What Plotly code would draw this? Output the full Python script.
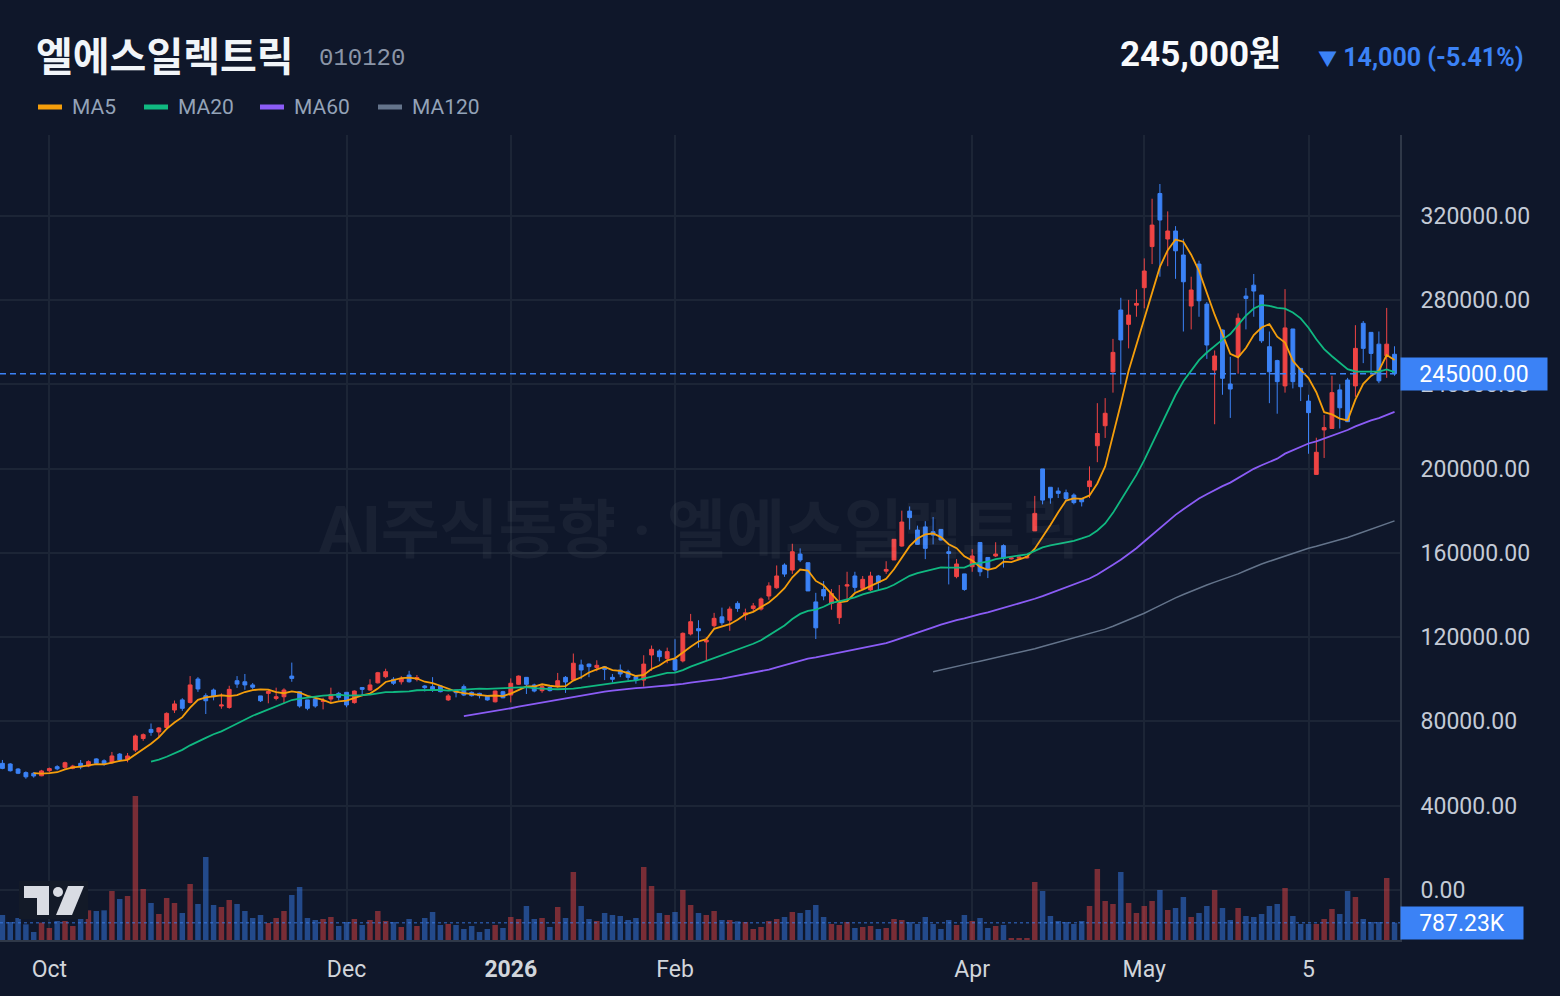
import plotly.graph_objects as go
import pandas as pd

# ---------------- data (prices in thousand KRW, volume in K shares) ----------------
OPEN_K = [60.1, 59.8, 57.4, 55.7, 55.4, 54.2, 56.6, 58.5, 58.2, 57.8,
          60.1, 58.8, 62.2, 61.3, 60.4, 64.5, 62.0, 66.4, 71.9, 76.2,
          75.0, 77.1, 85.4, 90.2, 89.0, 100.1, 92.2, 94.9, 87.3, 86.6,
          99.3, 98.8, 97.3, 92.1, 93.3, 90.9, 91.7, 101.5, 94.1, 90.2,
          90.6, 89.5, 90.6, 93.3, 93.8, 88.9, 96.1, 94.9, 98.3, 101.2,
          100.0, 98.8, 102.0, 100.0, 96.8, 96.5, 96.8, 90.2, 94.9, 96.5,
          93.8, 93.3, 92.2, 89.3, 94.1, 92.5, 97.6, 100.9, 97.3, 94.6,
          96.1, 96.5, 100.9, 99.6, 106.8, 107.2, 105.6, 105.9, 100.9, 104.4,
          103.6, 101.2, 99.6, 111.5, 113.4, 109.9, 109.4, 108.7, 121.5, 124.0,
          117.7, 125.4, 129.6, 128.0, 136.0, 130.5, 133.6, 133.3, 139.5, 143.4,
          154.2, 151.8, 159.4, 155.3, 136.7, 142.6, 136.0, 129.2, 144.2, 149.0,
          143.1, 142.4, 149.0, 151.3, 156.6, 163.2, 179.8, 170.8, 172.3, 170.0,
          171.1, 160.5, 148.7, 150.0, 153.4, 164.9, 157.8, 158.5, 163.4, 157.1,
          157.4, 157.6, 170.4, 199.8, 191.1, 189.3, 188.5, 187.4, 185.8, 191.4,
          210.8, 220.3, 245.9, 275.2, 268.4, 277.5, 285.8, 305.3, 330.5, 308.9,
          312.7, 301.3, 277.1, 297.0, 278.0, 246.7, 265.7, 240.1, 253.4, 281.8,
          287.0, 282.3, 257.8, 251.2, 239.2, 266.2, 247.5, 232.0, 197.2, 218.3,
          219.0, 237.3, 242.0, 239.2, 268.9, 264.6, 259.0, 253.5, 254.2]
CLOSE_K = [57.7, 56.6, 55.4, 53.7, 54.1, 56.5, 57.6, 57.5, 60.4, 58.8,
           58.4, 60.9, 60.1, 59.8, 63.6, 61.7, 63.6, 73.1, 73.7, 74.8,
           76.9, 83.8, 88.3, 86.2, 97.3, 95.4, 89.8, 91.7, 87.8, 95.2,
           97.7, 97.3, 96.2, 89.8, 94.2, 91.7, 94.9, 100.4, 87.3, 86.2,
           87.3, 89.8, 92.8, 91.4, 87.8, 94.4, 95.2, 97.3, 103.1, 103.6,
           98.1, 100.4, 98.8, 100.8, 96.0, 94.9, 94.1, 92.1, 93.6, 92.5,
           92.2, 92.2, 90.2, 94.4, 91.2, 98.1, 101.5, 97.6, 94.4, 96.5,
           94.6, 99.3, 98.7, 107.6, 104.4, 106.0, 106.6, 104.7, 100.0, 102.5,
           100.9, 99.6, 107.2, 114.2, 110.7, 113.1, 104.4, 121.8, 127.3, 123.0,
           118.6, 128.9, 126.8, 133.3, 133.6, 131.5, 134.8, 138.1, 144.3, 149.0,
           149.9, 160.5, 156.6, 141.9, 124.4, 139.5, 140.7, 136.0, 144.8, 143.6,
           147.4, 149.0, 146.0, 152.1, 166.4, 174.6, 176.7, 164.0, 162.1, 168.4,
           166.1, 159.7, 154.7, 142.6, 158.5, 151.0, 152.6, 159.4, 157.4, 157.6,
           158.0, 158.2, 178.7, 185.0, 186.1, 188.2, 185.8, 183.8, 184.2, 194.1,
           216.6, 226.2, 255.1, 261.0, 272.8, 278.3, 293.7, 315.5, 317.9, 312.7,
           303.3, 288.6, 284.7, 279.6, 258.6, 253.4, 242.8, 237.7, 271.3, 280.7,
           284.2, 260.6, 245.9, 241.2, 266.7, 241.2, 238.8, 226.5, 207.7, 219.4,
           236.0, 228.8, 222.2, 257.0, 257.0, 254.6, 241.6, 259.0, 245.0]
HIGH_K = [61.7, 60.2, 57.8, 56.3, 56.0, 57.0, 58.1, 59.2, 60.9, 59.4,
          61.7, 61.5, 62.5, 62.0, 65.5, 65.0, 65.0, 73.8, 74.3, 79.0,
          77.3, 84.3, 89.9, 91.0, 101.5, 101.0, 93.3, 95.6, 93.3, 96.9,
          101.5, 102.5, 98.2, 92.1, 95.0, 96.0, 95.7, 107.9, 94.4, 90.2,
          91.0, 91.2, 96.0, 94.0, 93.8, 94.7, 96.3, 100.0, 103.5, 105.0,
          101.0, 101.5, 104.0, 102.0, 97.2, 101.0, 97.0, 93.0, 94.9, 97.5,
          94.2, 93.6, 92.5, 94.6, 94.5, 100.4, 101.8, 100.9, 97.9, 97.5,
          96.5, 103.0, 101.5, 112.2, 109.3, 107.5, 109.0, 106.3, 102.5, 107.0,
          104.5, 102.0, 111.4, 116.0, 114.2, 115.0, 119.0, 122.2, 131.0, 128.0,
          120.0, 131.5, 134.0, 134.5, 137.0, 133.5, 136.2, 138.8, 146.0, 154.0,
          155.0, 164.3, 162.1, 155.3, 141.0, 146.6, 142.8, 144.7, 151.0, 151.0,
          149.0, 151.0, 149.5, 156.0, 166.4, 180.0, 182.0, 172.9, 175.0, 177.0,
          171.1, 163.0, 157.0, 150.0, 161.7, 164.9, 157.8, 165.0, 164.0, 158.0,
          158.5, 158.6, 187.0, 199.8, 191.1, 191.0, 190.0, 188.2, 186.0, 201.0,
          231.0, 233.4, 261.5, 281.0, 280.0, 285.0, 299.7, 328.0, 335.0, 322.0,
          315.0, 309.0, 291.0, 298.6, 279.0, 256.0, 266.0, 253.0, 273.6, 285.6,
          292.3, 282.3, 265.0, 251.6, 285.1, 266.2, 247.5, 235.0, 214.6, 225.4,
          244.0, 240.0, 243.0, 268.0, 270.0, 264.6, 265.0, 276.2, 258.0]
LOW_K = [57.3, 56.2, 55.0, 52.8, 53.3, 54.0, 56.0, 56.8, 57.5, 57.3,
         57.3, 58.3, 59.8, 59.0, 59.8, 60.9, 60.6, 65.5, 70.8, 73.2,
         72.5, 76.0, 84.0, 85.0, 88.5, 94.0, 83.5, 90.0, 86.0, 86.0,
         95.9, 95.0, 95.2, 89.2, 88.6, 90.0, 88.6, 98.8, 86.5, 85.3,
         86.5, 85.7, 89.0, 90.0, 86.7, 88.4, 92.0, 94.5, 98.0, 100.5,
         97.3, 97.5, 98.4, 99.0, 94.2, 94.0, 93.8, 89.7, 91.4, 92.0,
         91.8, 90.9, 89.8, 89.0, 91.0, 89.0, 97.3, 93.0, 93.8, 93.6,
         94.2, 96.0, 93.5, 99.3, 100.0, 101.0, 103.8, 99.6, 98.5, 101.0,
         99.5, 97.9, 96.5, 104.0, 108.5, 107.6, 103.6, 108.0, 120.8, 115.0,
         109.0, 124.5, 125.5, 123.0, 132.0, 128.0, 132.4, 132.6, 137.7, 142.9,
         148.6, 150.0, 155.6, 141.9, 119.1, 137.5, 133.0, 126.2, 138.0, 141.5,
         142.6, 141.9, 142.0, 150.0, 156.6, 162.9, 171.0, 163.7, 157.0, 164.0,
         165.8, 145.0, 147.9, 142.0, 151.0, 148.9, 148.0, 158.0, 153.0, 156.8,
         157.0, 157.2, 170.4, 183.0, 183.3, 186.0, 184.5, 183.0, 182.0, 186.0,
         203.0, 214.5, 236.0, 240.0, 257.0, 272.0, 276.0, 297.0, 291.0, 296.0,
         290.0, 265.0, 266.0, 272.0, 252.0, 221.0, 235.0, 224.0, 245.0, 266.0,
         272.0, 259.6, 231.0, 226.0, 236.0, 238.0, 232.0, 207.0, 197.2, 205.0,
         219.0, 219.0, 222.2, 234.0, 250.0, 245.0, 240.5, 243.0, 244.0]
VOLUME_K = [1138, 819, 1001, 713, 364, 789, 546, 865, 865, 637,
            1350, 1350, 1320, 1350, 2230, 1866, 2002, 6553, 2321, 1684,
            1183, 1911, 1684, 1229, 2549, 1638, 3777, 1593, 1502, 1820,
            1638, 1320, 1001, 1138, 774, 1001, 1320, 2048, 2412, 1001,
            910, 956, 1047, 637, 819, 956, 683, 910, 1320, 865,
            819, 592, 956, 637, 1001, 1274, 683, 728, 683, 501,
            637, 364, 501, 683, 546, 1047, 956, 1547, 956, 1001,
            592, 1502, 1001, 3095, 1547, 956, 865, 1229, 1138, 1092,
            910, 1001, 3322, 2458, 1229, 1138, 1274, 2276, 1593, 1229,
            1138, 1320, 910, 910, 850, 819, 501, 592, 865, 956,
            1047, 1274, 1229, 1365, 1593, 1047, 728, 683, 819, 546,
            592, 637, 501, 546, 956, 910, 819, 728, 1047, 728,
            501, 910, 683, 1138, 865, 1001, 546, 637, 683, 91,
            91, 91, 2640, 2230, 1092, 865, 819, 728, 865, 1547,
            3231, 1775, 1638, 3095, 1684, 1229, 1547, 1775, 2276, 1365,
            1456, 1957, 1047, 1229, 1547, 2276, 1456, 910, 1456, 1092,
            1047, 1183, 1547, 1638, 2367, 1092, 728, 728, 728, 956,
            1411, 1183, 2230, 1957, 956, 819, 819, 2822, 787.23]

TICK_POS = [6, 44, 65, 86, 124, 146, 167]
TICK_TEXT = ["Oct", "Dec", "<b>2026</b>", "Feb", "Apr", "May", "5"]
PRICE_TICKS = [0, 40000, 80000, 120000, 160000, 200000, 240000, 280000, 320000]
MA_PERIODS = [5, 20, 60, 120]
MA_NAMES = ["MA5", "MA20", "MA60", "MA120"]
MA_COLORS = ["#f59e0b", "#10b981", "#8b5cf6", "#64748b"]

NAME = "엘에스일렉트릭"
CODE = "010120"
LAST_PRICE_TXT = "245,000원"
CHANGE_ARROW = "▼"
CHANGE_TXT = "14,000 (-5.41%)"
WATERMARK = "AI주식동향 · 엘에스일렉트릭"

# ---------------- derived ----------------
o = [v * 1000 for v in OPEN_K]
c = [v * 1000 for v in CLOSE_K]
h = [v * 1000 for v in HIGH_K]
l = [v * 1000 for v in LOW_K]
n = len(c)
idx = list(range(n))
close_s = pd.Series(c)

UP = "#ef4444"
DOWN = "#3b82f6"
BG = "#0f172a"
GRID = "#1c2536"
AXLINE = "#2f3848"
FONT = "Roboto, 'Noto Sans CJK KR', sans-serif"
KFONT = "'Noto Sans CJK KR', Roboto, sans-serif"

W, H = 1560, 996
PL, PR, PT, PB = 0, 1400, 135, 940


def px(xp):
    return (xp - PL) / (PR - PL)


def py(yp):
    return (PB - yp) / (PB - PT)


fig = go.Figure()

vol_colors = ["rgba(239,68,68,0.48)" if c[i] >= o[i] else "rgba(59,130,246,0.48)" for i in idx]
fig.add_trace(go.Bar(x=idx, y=VOLUME_K, marker=dict(color=vol_colors, line=dict(width=0)),
                     width=0.7, yaxis="y2", hoverinfo="skip", showlegend=False))

fig.add_trace(go.Candlestick(
    x=idx, open=o, high=h, low=l, close=c,
    increasing=dict(line=dict(color=UP, width=1), fillcolor=UP),
    decreasing=dict(line=dict(color=DOWN, width=1), fillcolor=DOWN),
    whiskerwidth=0, hoverinfo="skip", showlegend=False))

for p, col in zip(MA_PERIODS, MA_COLORS):
    ma = close_s.rolling(p).mean()
    fig.add_trace(go.Scatter(x=idx, y=ma, mode="lines",
                             line=dict(color=col, width=1.8 if p < 120 else 1.5),
                             hoverinfo="skip", showlegend=False))

shapes = []
annotations = []

# last price line
shapes.append(dict(type="line", xref="paper", x0=0, x1=1, yref="y", y0=c[-1], y1=c[-1],
                   line=dict(color="#3b82f6", width=1.5, dash="6px,4px")))
# last volume line
shapes.append(dict(type="line", xref="paper", x0=0, x1=1, yref="y2", y0=VOLUME_K[-1], y1=VOLUME_K[-1],
                   line=dict(color="rgba(59,130,246,0.55)", width=1.5, dash="3px,3px")))

# price label boxes
annotations.append(dict(xref="paper", x=1.0, xanchor="left", yref="y", y=c[-1], yanchor="middle",
                        text=f"{c[-1]:.2f}", showarrow=False, bgcolor="#3b82f6",
                        width=146, height=32, align="center", borderpad=0,
                        font=dict(family=FONT, size=23, color="#ffffff")))
annotations.append(dict(xref="paper", x=1.0, xanchor="left", yref="y2", y=VOLUME_K[-1], yanchor="middle",
                        text=f"{VOLUME_K[-1]:.2f}K", showarrow=False, bgcolor="#3b82f6",
                        width=122, height=32, align="center", borderpad=0,
                        font=dict(family=FONT, size=23, color="#ffffff")))

# watermark
annotations.append(dict(xref="paper", yref="paper", x=px(699), y=py(530), text=f"<b>{WATERMARK}</b>",
                        showarrow=False, font=dict(family=FONT, size=64, color="rgba(255,255,255,0.045)")))

# header
annotations.append(dict(xref="paper", yref="paper", x=px(34), xanchor="left", y=py(54), yanchor="middle",
                        text=f"<b>{NAME}</b>", showarrow=False,
                        font=dict(family=KFONT, size=40, color="#f1f5f9")))
annotations.append(dict(xref="paper", yref="paper", x=px(317), xanchor="left", y=py(59), yanchor="middle",
                        text=CODE, showarrow=False,
                        font=dict(family="'Liberation Mono', monospace", size=24, color="#8b95a7")))
annotations.append(dict(xref="paper", yref="paper", x=px(1283), xanchor="right", y=py(54), yanchor="middle",
                        text=f"<b>{LAST_PRICE_TXT}</b>", showarrow=False,
                        font=dict(family=FONT, size=35, color="#f8fafc")))
annotations.append(dict(xref="paper", yref="paper", x=px(1525), xanchor="right", y=py(57), yanchor="middle",
                        text=f"<b><span style='font-size:19px'>{CHANGE_ARROW}</span> {CHANGE_TXT}</b>",
                        showarrow=False,
                        font=dict(family=FONT, size=25, color="#3b82f6")))

# legend
leg_x = [36, 142, 258, 376]
for lx, name, col in zip(leg_x, MA_NAMES, MA_COLORS):
    shapes.append(dict(type="line", xref="paper", yref="paper", x0=px(lx + 2), x1=px(lx + 26),
                       y0=py(107), y1=py(107), line=dict(color=col, width=5)))
    annotations.append(dict(xref="paper", yref="paper", x=px(lx + 34), xanchor="left", y=py(107),
                            yanchor="middle", text=name, showarrow=False,
                            font=dict(family=FONT, size=21, color="#94a3b8")))


# TradingView style logo
def pth(points):
    return "M " + " L ".join(f"{px(a):.5f},{py(b):.5f}" for a, b in points) + " Z"


shapes.append(dict(type="rect", xref="paper", yref="paper", x0=px(19), x1=px(88), y0=py(919), y1=py(881),
                   fillcolor="#131a28", line=dict(width=0)))
LOGO = "#d9dce3"
shapes.append(dict(type="path", xref="paper", yref="paper",
                   path=pth([(24, 886), (49, 886), (49, 915), (37, 915), (37, 898), (24, 898)]),
                   fillcolor=LOGO, line=dict(width=0)))
shapes.append(dict(type="circle", xref="paper", yref="paper", x0=px(53), x1=px(63), y0=py(897), y1=py(887),
                   fillcolor=LOGO, line=dict(width=0)))
shapes.append(dict(type="path", xref="paper", yref="paper",
                   path=pth([(68, 886), (84, 886), (72, 915), (56, 915)]),
                   fillcolor=LOGO, line=dict(width=0)))

fig.update_layout(
    width=W, height=H,
    margin=dict(l=PL, r=W - PR, t=PT, b=H - PB, pad=0),
    paper_bgcolor=BG, plot_bgcolor=BG,
    showlegend=False,
    xaxis=dict(range=[-0.31, 178.7], tickvals=TICK_POS, ticktext=TICK_TEXT, showgrid=True,
               gridcolor=GRID, gridwidth=1.5, zeroline=False, showline=True, linecolor=AXLINE, linewidth=2,
               ticks="", ticklabelstandoff=7, tickfont=dict(family=FONT, size=23, color="#d1d5db"),
               rangeslider=dict(visible=False), fixedrange=True),
    yaxis=dict(range=[-23725, 358245], side="right", tickvals=PRICE_TICKS, tickformat=".2f",
               showgrid=True, gridcolor=GRID, gridwidth=1.5, zeroline=False, showline=True,
               linecolor=AXLINE, linewidth=2, ticks="", ticklabelstandoff=14,
               tickfont=dict(family=FONT, size=23, color="#c3cad6"), fixedrange=True),
    yaxis2=dict(range=[0, 805 * 45.5], overlaying="y", visible=False, fixedrange=True),
    shapes=shapes,
    annotations=annotations,
)

fig.write_html("out.html")
